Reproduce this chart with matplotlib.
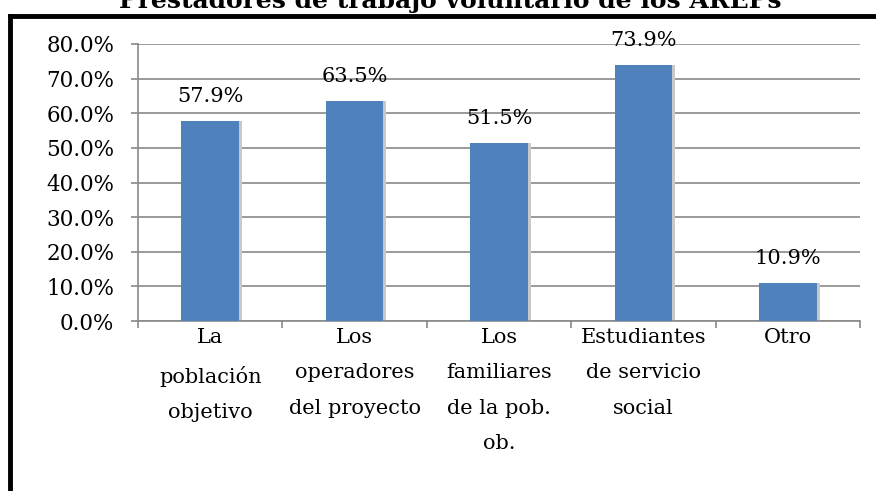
import matplotlib.pyplot as plt
from matplotlib.lines import Line2D
from matplotlib.ticker import FuncFormatter, MultipleLocator

categories = ['La\npoblación\nobjetivo', 'Los\noperadores\ndel proyecto',
              'Los\nfamiliares\nde la pob.\nob.', 'Estudiantes\nde servicio\nsocial', 'Otro']
values = [57.9, 63.5, 51.5, 73.9, 10.9]
title = 'Prestadores de trabajo voluntario de los AREPs'

plt.rcParams['font.family'] = ['DejaVu Serif']

W, H = 876, 491
fig = plt.figure(figsize=(W / 100, H / 100), dpi=100)
ax = fig.add_axes([138 / W, 1 - 321 / H, (860 - 138) / W, (321 - 44) / H])

grid_c = '#898989'
x = range(len(values))
# light shadow behind bars, then the bars
ax.bar([xi + 0.02 for xi in x], values, width=0.4, color='#c8c8c8', zorder=2)
ax.bar(x, values, width=0.4, color='#4F81BD', zorder=3)

for xi, v in zip(x, values):
    ax.annotate(f'{v:.1f}%', xy=(xi, v), xytext=(0, 17.5), textcoords='offset points',
                ha='center', va='center', fontsize=15, color='#000000')

ax.set_xlim(-0.5, len(values) - 0.5)
ax.set_ylim(0, 80)
ax.yaxis.set_major_locator(MultipleLocator(10))
ax.yaxis.set_major_formatter(FuncFormatter(lambda v, p: f'{v:.1f}%'))
ax.grid(axis='y', color=grid_c, linewidth=1.2, zorder=0)

ax.set_xticks([i - 0.5 for i in range(len(values) + 1)])
ax.set_xticklabels([])
ax.set_xticks(list(x), minor=True)
ax.set_xticklabels(categories, minor=True, fontsize=15, linespacing=2.1)
ax.tick_params(axis='x', which='minor', length=0, pad=5)
ax.tick_params(axis='x', which='major', length=5, color=grid_c, width=1.2)
ax.tick_params(axis='y', length=5, color=grid_c, width=1.2, labelsize=15.5, pad=12)

for s in ['top', 'right']:
    ax.spines[s].set_visible(False)
for s in ['left', 'bottom']:
    ax.spines[s].set_color(grid_c)
    ax.spines[s].set_linewidth(1.2)

# outer chart border (only top and left visible)
fig.add_artist(Line2D([10 / W, 1], [1 - 16 / H, 1 - 16 / H], color='black', linewidth=3.5))
fig.add_artist(Line2D([10 / W, 10 / W], [0, 1 - 16 / H], color='black', linewidth=3.5))

fig.text(450 / W, 1 - 8 / H, title, ha='center', va='baseline', fontsize=18,
         fontweight='bold')

fig.savefig('out.png', dpi=100)
